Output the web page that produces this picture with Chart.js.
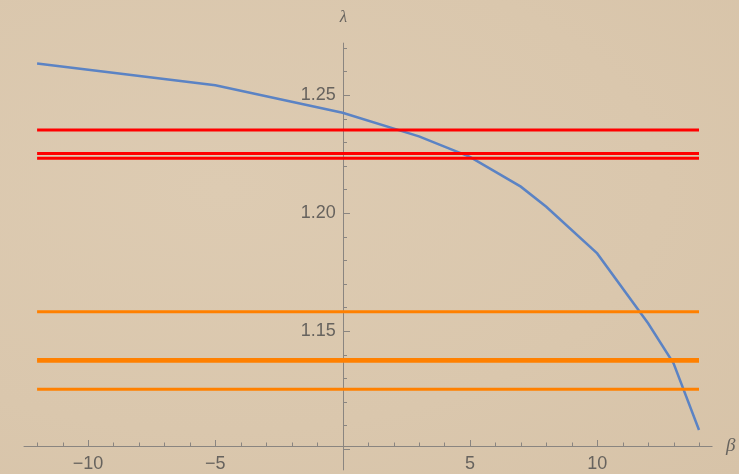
<!DOCTYPE html>
<html>
<head>
<meta charset="utf-8">
<script src="https://cdn.jsdelivr.net/npm/chart.js@4.4.1/dist/chart.umd.min.js"></script>
<style>
  html, body { margin: 0; padding: 0; }
  body {
    width: 739px; height: 474px; overflow: hidden;
    background: radial-gradient(ellipse at 30% 40%, #ddcbb2 0%, #dac7ad 60%, #d7c3a8 100%);
  }
  canvas { display: block; }
</style>
</head>
<body>
<canvas id="chart" width="739" height="474"></canvas>
<script>
// curve
const betaValues = [-12, -5, 0, 3, 5, 7, 8, 10, 12, 13, 14];
const lambdaValues = [1.2634, 1.2542, 1.2425, 1.2325, 1.2238, 1.2112, 1.2027, 1.1829, 1.1533, 1.1363, 1.1081];

// horizontal reference levels
const redLevels = [1.2352, 1.2253, 1.2232];
const orangeLevels = [1.1582, 1.1380, 1.1372, 1.1253];
const levelSpan = [-12, 14];

const xTickLabels = [-10, -5, 5, 10];
const yTickLabels = [1.15, 1.20, 1.25];

const axisGray = '#8a8580';
const labelGray = '#67635e';

function levelDataset(y, color) {
  return {
    data: levelSpan.map(x => ({ x, y })),
    borderColor: color,
    borderWidth: 3,
    pointRadius: 0
  };
}

const datasets = [];
redLevels.forEach(v => datasets.push(levelDataset(v, '#ff0000')));
orangeLevels.forEach(v => datasets.push(levelDataset(v, '#ff8000')));
datasets.push({
  data: betaValues.map((b, i) => ({ x: b, y: lambdaValues[i] })),
  borderColor: '#5b83c4',
  borderWidth: 2.5,
  pointRadius: 0,
  tension: 0
});

// Mathematica-like axes: ticks point into the plot
const mathAxes = {
  id: 'mathAxes',
  beforeDatasetsDraw(chart) {
    const ctx = chart.ctx;
    const xs = chart.scales.x, ys = chart.scales.y;
    const x0 = Math.round(xs.getPixelForValue(0)) + 0.5;
    const yAxis = chart.chartArea.bottom;
    ctx.save();
    ctx.strokeStyle = axisGray;
    ctx.lineWidth = 1;
    ctx.beginPath();
    ctx.moveTo(chart.chartArea.left, yAxis + 0.5);
    ctx.lineTo(chart.chartArea.right, yAxis + 0.5);
    ctx.moveTo(x0, chart.chartArea.top);
    ctx.lineTo(x0, ys.getPixelForValue(1.091));
    for (let b = -12; b <= 14; b++) {
      if (b === 0) continue;
      const px = Math.round(xs.getPixelForValue(b)) + 0.5;
      const len = b % 5 === 0 ? 6 : 3.5;
      ctx.moveTo(px, yAxis);
      ctx.lineTo(px, yAxis - len);
    }
    for (let k = 110; k <= 127; k++) {
      const py = Math.round(ys.getPixelForValue(k / 100)) + 0.5;
      const len = k % 5 === 0 ? 6.5 : 3.5;
      ctx.moveTo(x0, py);
      ctx.lineTo(x0 + len, py);
    }
    ctx.stroke();
    ctx.fillStyle = labelGray;
    ctx.font = 'italic 17px "Liberation Serif"';
    ctx.textAlign = 'center';
    ctx.textBaseline = 'middle';
    ctx.fillText('λ', x0, 18);
    ctx.font = 'italic 19px "Liberation Serif"';
    ctx.textAlign = 'left';
    ctx.fillText('β', 726, yAxis);
    ctx.restore();
  }
};

new Chart(document.getElementById('chart'), {
  type: 'line',
  data: { datasets },
  options: {
    responsive: false,
    animation: false,
    devicePixelRatio: 1,
    layout: { padding: { left: 23.6, right: 26.5, top: 42.7, bottom: 0 } },
    plugins: { legend: { display: false }, tooltip: { enabled: false } },
    scales: {
      x: {
        type: 'linear',
        min: -12.53,
        max: 14.53,
        grid: { display: false, drawTicks: false },
        border: { display: false },
        afterBuildTicks: s => { s.ticks = xTickLabels.map(v => ({ value: v })); },
        afterFit: s => { s.height = 28; },
        ticks: {
          padding: 7,
          color: labelGray,
          font: { family: 'Liberation Sans', size: 18 },
          callback: v => (v < 0 ? '\u2212' + Math.abs(v) : String(v))
        }
      },
      y: {
        type: 'linear',
        // labels sit a little left of the drawn axis line at beta = 0
        position: { x: -0.27 },
        min: 1.1013,
        max: 1.2722,
        grid: { display: false, drawTicks: false },
        border: { display: false },
        afterBuildTicks: s => { s.ticks = yTickLabels.map(v => ({ value: v })); },
        ticks: {
          padding: 0,
          color: labelGray,
          font: { family: 'Liberation Sans', size: 18 },
          callback: v => v.toFixed(2)
        }
      }
    }
  },
  plugins: [mathAxes]
});
</script>
</body>
</html>
